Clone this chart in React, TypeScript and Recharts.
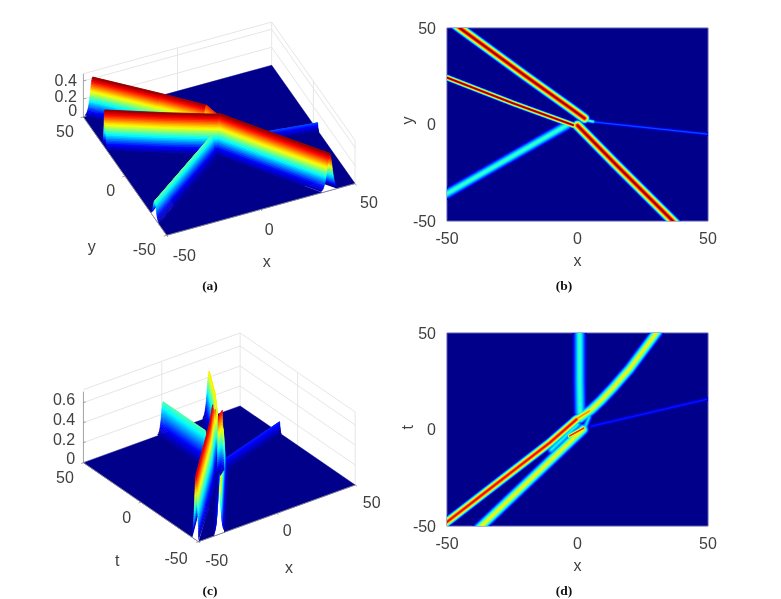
import { Area, CartesianGrid, ComposedChart, Line, ReferenceArea, ReferenceDot, XAxis, YAxis } from "recharts";

// ridge crests (a)/(b), x then y, with peak as a fraction of the colour range
const abTopX = [-45.1, -20, -3, 2.7];
const abTopY = [50, 25.2, 8.8, 3.2];
const abThinX = [-50, -24.7, -1.7];
const abThinY = [24.3, 11, -0.3];
const abStemX = [0, 14.9, 36.5];
const abStemY = [-0.5, -21, -50];
const abCyanX = [-50, -4];
const abCyanY = [-35.8, -0.3];
const abBlueX = [4.7, 50];
const abBlueY = [1.5, -5];
const abBumpX = [2, 6];
const abBumpY = [2.5, 1.5];
const abTopPeaks = [1, 1, 0.97, 0.72];
const abPeaks = [1, 1, 1, 0.47, 0.2, 0.45];

// ridge crests (c)/(d)
const cdLongX = [-50, -29.8, -10.7, -0.4];
const cdLongY = [-47.9, -26.8, -6.9, 5.2];
const cdLowX = [-36.8, 2.1];
const cdLowY = [-50, 0];
const cdTipX = [-3, 2.4];
const cdTipY = [-3.3, 0.7];
const cdUpX = [1, 5.3, 9, 13.6, 20, 30.2];
const cdUpY = [6, 10.3, 15, 21.6, 31.5, 50];
const cdStemX = [0.8, 0.8, 1];
const cdStemY = [50, 25, 9];
const cdBlueX = [5.3, 50];
const cdBlueY = [1.7, 15.8];
const cdKnotX = [-1, 4.5];
const cdKnotY = [5, 9.5];
const cdHaloX = [2.5, 4.5];
const cdHaloY = [0, 6.5];
const cdGapX = [-10, 0];
const cdGapY = [-10.5, 2.5];
const cdPeaks = [0.93, 0.66, 0.88, 0.66, 0.46, 0.16, 0.78, 0.38, 0.4];

const axisTicks = [-50, 0, 50];
const zTicksA = [0, 0.2, 0.4];
const zTicksC = [0, 0.2, 0.4, 0.6];

const jetStops = [
  [0, 0, 0, 143],
  [0.125, 0, 0, 255],
  [0.375, 0, 255, 255],
  [0.625, 255, 255, 0],
  [0.875, 255, 0, 0],
  [1, 128, 0, 0],
];

const BG = "#00008a";
const TEXT = "#404040";
const SANS = "'Liberation Sans', Arial, sans-serif";

const jet = (f: number) => {
  const v = Math.min(1, Math.max(0, f));
  for (let i = 1; i < jetStops.length; i++) {
    if (v <= jetStops[i][0]) {
      const a = jetStops[i - 1];
      const b = jetStops[i];
      const k = (v - a[0]) / (b[0] - a[0]);
      return `rgb(${[1, 2, 3].map((c) => Math.round(a[c] + (b[c] - a[c]) * k)).join(",")})`;
    }
  }
  return "rgb(128,0,0)";
};

type HeatRidge = { xs: number[]; ys: number[]; peak: number; px: number; open?: [boolean, boolean] };
// dirs: which way the flanks fall at each crest point, in x/y units; reach: how far they go
// hole: how far back the bare paper shows under a ridge that runs off the near edge of the floor
type SurfaceRidge = { xs: number[]; ys: number[]; peaks: number[]; dirs: number[][]; reach: number[]; nearEnd?: "start" | "end"; hole?: number };

const ALONG_X = [1, 0];
const ALONG_Y = [0, 1];
const DIAGONAL = [0.7, 0.7];
const flat = (n: number, v: any) => Array(n).fill(v);

const heatAB: HeatRidge[] = [
  { xs: abBlueX, ys: abBlueY, peak: abPeaks[4], px: 4.5, open: [false, true] },
  { xs: abTopX, ys: abTopY, peak: abPeaks[0], px: 12, open: [true, false] },
  { xs: abThinX, ys: abThinY, peak: abPeaks[1], px: 7, open: [true, false] },
  { xs: abStemX, ys: abStemY, peak: abPeaks[2], px: 12.5, open: [false, true] },
  { xs: abCyanX, ys: abCyanY, peak: abPeaks[3], px: 13, open: [true, false] },
  { xs: abBumpX, ys: abBumpY, peak: abPeaks[5], px: 5.5 },
];

const heatCD: HeatRidge[] = [
  { xs: cdBlueX, ys: cdBlueY, peak: cdPeaks[5], px: 5.5, open: [false, true] },
  { xs: cdStemX, ys: cdStemY, peak: cdPeaks[4], px: 16, open: [true, false] },
  { xs: cdUpX, ys: cdUpY, peak: cdPeaks[3], px: 14, open: [false, true] },
  { xs: cdHaloX, ys: cdHaloY, peak: cdPeaks[7], px: 8 },
  { xs: cdGapX, ys: cdGapY, peak: cdPeaks[8], px: 12 },
  { xs: cdKnotX, ys: cdKnotY, peak: cdPeaks[6], px: 10 },
  { xs: cdLongX, ys: cdLongY, peak: cdPeaks[0], px: 11, open: [true, false] },
  { xs: cdLowX, ys: cdLowY, peak: cdPeaks[1], px: 14, open: [true, false] },
  { xs: cdTipX, ys: cdTipY, peak: cdPeaks[2], px: 6 },
];

// paint order is back to front for the 3d panels
const surfaceA: SurfaceRidge[] = [
  { xs: abBlueX, ys: abBlueY, peaks: flat(2, abPeaks[4]), dirs: flat(2, ALONG_Y), reach: flat(2, 1.6) },
  { xs: abTopX, ys: abTopY, peaks: abTopPeaks, dirs: flat(4, ALONG_X), reach: flat(4, 4) },
  {
    xs: [...abThinX, ...abStemX],
    ys: [...abThinY, ...abStemY],
    peaks: flat(6, abPeaks[1]),
    dirs: [ALONG_Y, ALONG_Y, ALONG_Y, DIAGONAL, ALONG_X, ALONG_X],
    reach: [3, 3, 3, 3.6, 4.5, 4.5],
    nearEnd: "end",
    hole: 10,
  },
  { xs: abCyanX, ys: abCyanY, peaks: flat(2, abPeaks[3]), dirs: flat(2, ALONG_Y), reach: flat(2, 5.5), nearEnd: "start", hole: 16 },
];

const surfaceC: SurfaceRidge[] = [
  { xs: cdBlueX, ys: cdBlueY, peaks: flat(2, cdPeaks[5]), dirs: flat(2, ALONG_Y), reach: flat(2, 1.6) },
  { xs: cdStemX, ys: cdStemY, peaks: flat(3, cdPeaks[4]), dirs: flat(3, ALONG_X), reach: flat(3, 3.4) },
  { xs: cdUpX, ys: cdUpY, peaks: flat(6, cdPeaks[3]), dirs: flat(6, ALONG_X), reach: flat(6, 4) },
  { xs: cdKnotX, ys: cdKnotY, peaks: flat(2, cdPeaks[6]), dirs: flat(2, ALONG_X), reach: flat(2, 1.8) },
  { xs: cdLongX, ys: cdLongY, peaks: flat(4, cdPeaks[0]), dirs: flat(4, ALONG_Y), reach: flat(4, 3.8), nearEnd: "start", hole: 36 },
  { xs: cdLowX, ys: cdLowY, peaks: flat(2, cdPeaks[1]), dirs: flat(2, ALONG_X), reach: flat(2, 3.6), nearEnd: "start", hole: 50 },
  { xs: cdTipX, ys: cdTipY, peaks: flat(2, cdPeaks[2]), dirs: flat(2, ALONG_X), reach: flat(2, 1.2) },
];

// camera of each 3d panel, fitted to the corners of its floor
const projectA = (x: number, y: number, z: number) => ({ vx: 219.2 + 1.883 * x - 0.833 * y, vy: 150.25 - 0.517 * x - 1.183 * y - 90 * z });
const projectC = (x: number, y: number, z: number) => ({ vx: 219.3 + 1.567 * x - 1.15 * y, vy: 473.8 - 0.567 * x - 0.79 * y - 100 * z });
type Project = typeof projectA;

const PAGE_W = 781;
const PAGE_H = 599;
const clampToFloor = (v: number) => Math.min(50, Math.max(-50, v));

// turns a convex polygon into the [low, high] rows an Area can fill
const polygonRows = (pts: { vx: number; vy: number }[]) => {
  const xs = Array.from(new Set(pts.map((p) => p.vx))).sort((a, b) => a - b);
  return xs.map((vx) => {
    const hits: number[] = [];
    pts.forEach((p, i) => {
      const q = pts[(i + 1) % pts.length];
      const lo = Math.min(p.vx, q.vx);
      const hi = Math.max(p.vx, q.vx);
      if (vx < lo || vx > hi) return;
      if (hi === lo) hits.push(p.vy, q.vy);
      else hits.push(p.vy + ((q.vy - p.vy) * (vx - p.vx)) / (q.vx - p.vx));
    });
    return { vx, band: [Math.min(...hits), Math.max(...hits)] };
  });
};

const BAND_EDGES = [0.03, 0.07, 0.11, 0.15, 0.19, 0.23, 0.27, 0.31, 0.35, 0.39, 0.43, 0.47, 0.51, 0.55, 0.59, 0.63, 0.67, 0.71, 0.75, 0.79, 0.83, 0.87, 0.91, 0.95, 1];
const flank = (t: number) => Math.acosh(Math.sqrt(1 / t)) / Math.acosh(Math.sqrt(1 / 0.03));

const ridgePolys = (ridges: SurfaceRidge[], project: Project, zTop: number) => {
  const polys: { key: string; rows: ReturnType<typeof polygonRows>; color: string }[] = [];
  ridges.forEach((r, ri) => {
    [1, -1].forEach((side) => {
      const order = BAND_EDGES.slice(0, -1).map((_, k) => k);
      if (side < 0) order.reverse();
      order.forEach((k) => {
        const t0 = BAND_EDGES[k];
        const t1 = BAND_EDGES[k + 1];
        const at = (i: number, t: number) => {
          const d = side * r.reach[i] * flank(t);
          return project(clampToFloor(r.xs[i] + r.dirs[i][0] * d), clampToFloor(r.ys[i] + r.dirs[i][1] * d), t * r.peaks[i] * zTop);
        };
        for (let i = 0; i + 1 < r.xs.length; i++) {
          polys.push({
            key: `${ri}-${side}-${k}-${i}`,
            rows: polygonRows([at(i, t0), at(i + 1, t0), at(i + 1, t1), at(i, t1)]),
            color: jet(((t0 + t1) / 2) * ((r.peaks[i] + r.peaks[i + 1]) / 2)),
          });
        }
      });
    });
  });
  return polys;
};

const openings = (ridges: SurfaceRidge[], project: Project) =>
  ridges
    .filter((r) => r.nearEnd)
    .map((r) => {
      const n = r.xs.length;
      const [a, b] = r.nearEnd === "start" ? [0, 1] : [n - 1, n - 2];
      const len = Math.hypot(r.xs[b] - r.xs[a], r.ys[b] - r.ys[a]);
      const back = r.hole ?? 8;
      const mx = r.xs[a] + ((r.xs[b] - r.xs[a]) * back) / len;
      const my = r.ys[a] + ((r.ys[b] - r.ys[a]) * back) / len;
      const [dx, dy] = r.dirs[a];
      // a touch inside the flank feet so no white seam runs along them
      const reach = r.reach[a] * 0.85;
      const pt = (x: number, y: number, s: number) => project(clampToFloor(x + dx * s * reach), clampToFloor(y + dy * s * reach), 0);
      return polygonRows([pt(r.xs[a], r.ys[a], 1), pt(mx, my, 1), pt(mx, my, -1), pt(r.xs[a], r.ys[a], -1)]);
    });

const floorRows = (project: Project) => polygonRows([project(-50, 50, 0), project(-50, -50, 0), project(50, -50, 0), project(50, 50, 0)]);

const pageChart = { width: PAGE_W, height: PAGE_H, margin: { top: 0, right: 0, bottom: 0, left: 0 } };
const layer = { position: "absolute" as const, left: 0, top: 0 };

const wallLines = (project: Project, ticks: number[], top: number) => {
  const lines: { vx: number; vy: number }[][] = [];
  ticks.slice(1).forEach((z) => {
    lines.push([project(-50, 50, z), project(50, 50, z), project(50, -50, z)]);
  });
  lines.push([project(-50, 50, top), project(50, 50, top), project(50, -50, top)]);
  [[0, 50], [50, 50], [50, 0], [50, -50]].forEach(([x, y]) => lines.push([project(x, y, 0), project(x, y, top)]));
  return lines;
};

const axisEdges = (project: Project, zTicks: number[], top: number) => {
  const lines = [[project(-50, 50, 0), project(-50, -50, 0), project(50, -50, 0)], [project(-50, 50, 0), project(-50, 50, top)]];
  axisTicks.forEach((t) => {
    lines.push([project(t, -50, 0), project(t, -51.5, 0)]);
    lines.push([project(-50, t, 0), project(-51.5, t, 0)]);
  });
  zTicks.forEach((z) => lines.push([project(-50, 50, z), project(-48.5, 50, z)]));
  return lines;
};

const Surface3D = ({ ridges, project, zTop, zTicks, boxTop }: { ridges: SurfaceRidge[]; project: Project; zTop: number; zTicks: number[]; boxTop: number }) => (
  <div style={layer}>
    <ComposedChart {...pageChart}>
      <XAxis hide type="number" dataKey="vx" domain={[0, PAGE_W]} />
      <YAxis hide reversed type="number" domain={[0, PAGE_H]} />
      <Area data={floorRows(project)} dataKey="band" fill={BG} fillOpacity={1} stroke={BG} strokeWidth={0.5} dot={false} activeDot={false} isAnimationActive={false} />
      {openings(ridges, project).map((rows, i) => (
        <Area key={`o${i}`} data={rows} dataKey="band" fill="#fff" fillOpacity={1} stroke="none" dot={false} activeDot={false} isAnimationActive={false} />
      ))}
      {ridgePolys(ridges, project, zTop).map((p) => (
        <Area key={p.key} data={p.rows} dataKey="band" fill={p.color} fillOpacity={1} stroke={p.color} strokeWidth={0.6} dot={false} activeDot={false} isAnimationActive={false} />
      ))}
      {axisEdges(project, zTicks, boxTop).map((pts, i) => (
        <Line key={`e${i}`} data={pts} dataKey="vy" stroke="#8c8c8c" strokeWidth={0.8} dot={false} activeDot={false} isAnimationActive={false} />
      ))}
    </ComposedChart>
  </div>
);

const Backdrop = () => {
  const grid = [...wallLines(projectA, zTicksA, 0.48), ...wallLines(projectC, zTicksC, 0.73)];
  const labels: [string, number, number][] = [
    ["0.4", 65.7, 80.7], ["0.2", 65.7, 96], ["0", 72.7, 110],
    ["50", 65, 131.7], ["0", 110.7, 190], ["-50", 144.3, 249.3], ["y", 91.7, 246],
    ["-50", 184.3, 255], ["0", 269.3, 229.3], ["50", 369, 202.7], ["x", 266.7, 261.7],
    ["0.6", 64, 399.3], ["0.4", 64, 419.3], ["0.2", 64, 439], ["0", 70.7, 458.3],
    ["50", 65, 477.3], ["0", 126.7, 517.3], ["-50", 176, 558.3], ["t", 117.3, 560.7],
    ["-50", 216.7, 560], ["0", 287.3, 530.7], ["50", 371.7, 502.3], ["x", 289, 567.3],
  ];
  const captions: [string, number, number][] = [["(a)", 210, 285], ["(b)", 564, 285], ["(c)", 210, 590], ["(d)", 564, 590]];
  return (
    <div style={layer}>
      <ComposedChart {...pageChart}>
        <XAxis hide type="number" dataKey="vx" domain={[0, PAGE_W]} />
        <YAxis hide reversed type="number" domain={[0, PAGE_H]} />
        {grid.map((pts, i) => (
          <Line key={i} data={pts} dataKey="vy" stroke="#e6e6e6" strokeWidth={1} dot={false} activeDot={false} isAnimationActive={false} />
        ))}
        {labels.map(([value, x, y], i) => (
          <ReferenceDot key={`l${i}`} x={x} y={y} r={0} stroke="none" ifOverflow="visible"
            label={{ value, position: "center", fontSize: 16, fill: TEXT, fontFamily: SANS }} />
        ))}
        {captions.map(([value, x, y]) => (
          <ReferenceDot key={value} x={x} y={y} r={0} stroke="none" ifOverflow="visible"
            label={{ value, position: "center", fontSize: 13.5, fontWeight: 700, fill: "#111", fontFamily: "'Liberation Serif', serif" }} />
        ))}
      </ComposedChart>
    </div>
  );
};

const HEAT_LEVELS = [0.05, 0.1, 0.15, 0.2, 0.25, 0.3, 0.35, 0.4, 0.45, 0.5, 0.55, 0.6, 0.65, 0.7, 0.75, 0.8, 0.85, 0.9, 0.95, 1];

// runs a crest past the frame where it leaves the picture, the axes clip it
const runOff = (r: HeatRidge) => {
  const pts = r.xs.map((x, i) => ({ x, y: r.ys[i] }));
  const stretch = (a: { x: number; y: number }, b: { x: number; y: number }) => ({ x: a.x + (a.x - b.x), y: a.y + (a.y - b.y) });
  if (r.open?.[0]) pts.unshift(stretch(pts[0], pts[1]));
  if (r.open?.[1]) pts.push(stretch(pts[pts.length - 1], pts[pts.length - 2]));
  return pts;
};

const HeatPanel = ({ ridges, top, yName }: { ridges: HeatRidge[]; top: number; yName: string }) => {
  const lines: { key: string; data: { x: number; y: number }[]; color: string; width: number }[] = [];
  HEAT_LEVELS.forEach((c) => {
    ridges.forEach((r, ri) => {
      if (r.peak < c) return;
      const width = Math.max(1, r.px * Math.pow(1 - c / r.peak, 0.8));
      lines.push({ key: `${c}-${ri}`, data: runOff(r), color: jet(c), width });
    });
  });
  return (
    <div style={{ position: "absolute", left: 400, top }}>
      <ComposedChart width={330} height={270} margin={{ top: 18, right: 22, bottom: 29, left: 0 }}>
        <CartesianGrid fill={BG} horizontal={false} vertical={false} />
        <XAxis type="number" dataKey="x" domain={[-50, 50]} ticks={axisTicks} interval={0} allowDataOverflow height={30}
          axisLine={false} tickLine={false} tick={{ fontSize: 16, fill: TEXT, fontFamily: SANS }} tickMargin={6}
          label={{ value: "x", position: "bottom", offset: 4, fontSize: 16, fill: TEXT, fontFamily: SANS }} />
        <YAxis type="number" domain={[-50, 50]} ticks={axisTicks} interval={0} allowDataOverflow width={47}
          axisLine={false} tickLine={false} tick={{ fontSize: 16, fill: TEXT, fontFamily: SANS }} tickMargin={5}
          label={{ value: yName, angle: -90, position: "insideLeft", offset: 7, fontSize: 16, fill: TEXT, fontFamily: SANS }} />
        {lines.map((l) => (
          <Line key={l.key} data={l.data} dataKey="y" stroke={l.color} strokeWidth={l.width} strokeLinecap="round" strokeLinejoin="round"
            dot={false} activeDot={false} isAnimationActive={false} />
        ))}
        <ReferenceArea x1={-50} x2={50} y1={-50} y2={50} fill="none" stroke="#5a5ab4" strokeWidth={1} />
      </ComposedChart>
    </div>
  );
};

export default function App() {
  return (
    <div style={{ position: "absolute", left: 0, top: 0, width: PAGE_W, height: PAGE_H, background: "#fff", overflow: "hidden", filter: "blur(0.35px)" }}>
      <Backdrop />
      <Surface3D ridges={surfaceA} project={projectA} zTop={0.415} zTicks={zTicksA} boxTop={0.48} />
      <Surface3D ridges={surfaceC} project={projectC} zTop={0.7} zTicks={zTicksC} boxTop={0.71} />
      <HeatPanel ridges={heatAB} top={10} yName="y" />
      <HeatPanel ridges={heatCD} top={315} yName="t" />
    </div>
  );
}
